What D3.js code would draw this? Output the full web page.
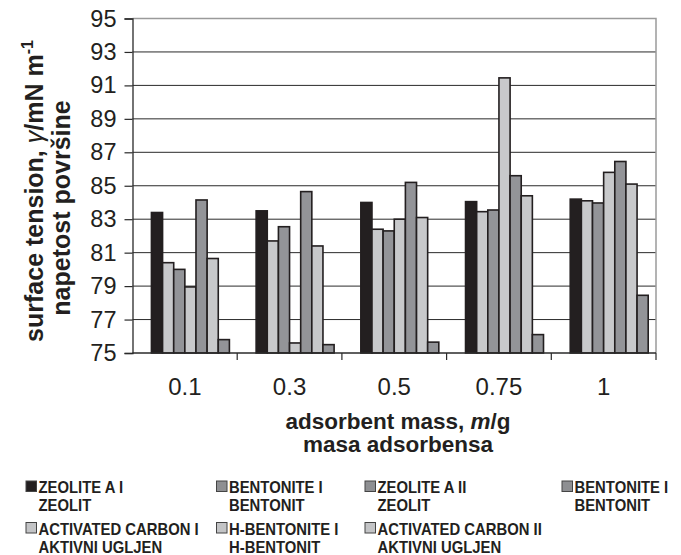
<!DOCTYPE html>
<html>
<head>
<meta charset="utf-8">
<script src="https://cdn.jsdelivr.net/npm/d3@7"></script>
<style>
  html, body { margin: 0; padding: 0; background: #fff; }
  svg { display: block; font-family: "Liberation Sans", Arial, sans-serif; }
</style>
</head>
<body>
<svg id="chart" width="681" height="555"></svg>
<script>
// ---------- data ----------
const categories = ["0.1", "0.3", "0.5", "0.75", "1"];
const yTicks = [75, 77, 79, 81, 83, 85, 87, 89, 91, 93, 95];

const seriesLine1 = ["ZEOLITE A  I", "BENTONITE I", "ZEOLITE A  II", "BENTONITE I",
                     "ACTIVATED CARBON I", "H-BENTONITE I", "ACTIVATED CARBON II"];
const seriesLine2 = ["ZEOLIT", "BENTONIT", "ZEOLIT", "BENTONIT",
                     "AKTIVNI UGLJEN", "H-BENTONIT", "AKTIVNI UGLJEN"];

const s1 = [83.40, 83.50, 84.00, 84.05, 84.20];
const s2 = [80.40, 81.70, 82.40, 83.45, 84.10];
const s3 = [80.00, 82.55, 82.30, 83.55, 83.97];
const s4 = [78.95, 75.60, 83.00, 91.45, 85.80];
const s5 = [84.15, 84.65, 85.20, 85.60, 86.45];
const s6 = [80.65, 81.40, 83.10, 84.40, 85.10];
const s7 = [75.80, 75.50, 75.65, 76.10, 78.45];
const seriesValues = [s1, s2, s3, s4, s5, s6, s7];

// ---------- styles ----------
const BLACK = "#231f20", LIGHT = "#c8c9cb", DARK = "#939498";
const barColors = [BLACK, LIGHT, DARK, LIGHT, DARK, LIGHT, DARK];
const legendColors = [BLACK, "#8e8f92", "#8e8f92", "#8e8f92", "#c3c4c6", "#c3c4c6", "#c3c4c6"];

const svg = d3.select("#chart");
const plotL = 132.5, plotR = 656, plotT = 18.5, plotB = 353;

const x0 = d3.scaleBand().domain(categories).range([plotL, plotR]).paddingInner(0).paddingOuter(0);
// 8 slots per category, first slot empty (as in the original Excel chart)
const x1 = d3.scaleBand().domain(d3.range(8)).range([0, x0.bandwidth()]).paddingInner(0).paddingOuter(0.7);
const y = d3.scaleLinear().domain([75, 95]).range([plotB, plotT]);

// gridlines
svg.append("g").selectAll("line").data(yTicks.filter(t => t > 75 && t < 95)).join("line")
  .attr("x1", plotL).attr("x2", plotR)
  .attr("y1", d => y(d)).attr("y2", d => y(d))
  .attr("stroke", "#2a2a2a").attr("stroke-width", 1);

// plot border (top and right, grey)
svg.append("path")
  .attr("d", `M${plotL},${y(95)}H${plotR}V${plotB}`)
  .attr("fill", "none").attr("stroke", "#9a9a9a").attr("stroke-width", 1.5);

// bars
const groups = svg.append("g").selectAll("g").data(categories).join("g")
  .attr("transform", d => `translate(${x0(d)},0)`);
groups.selectAll("rect")
  .data((c, ci) => seriesValues.map((vals, si) => ({ si, v: vals[ci] })))
  .join("rect")
  .attr("x", d => x1(d.si + 1))
  .attr("width", x1.bandwidth())
  .attr("y", d => y(d.v))
  .attr("height", d => y(75) - y(d.v))
  .attr("fill", d => barColors[d.si])
  .attr("stroke", BLACK).attr("stroke-width", 1.6);

// y axis
const yAxis = d3.axisLeft(y).tickValues(yTicks).tickSize(8).tickPadding(8).tickFormat(d3.format("d"));
const gy = svg.append("g").attr("transform", `translate(${plotL},0)`).call(yAxis);
gy.select(".domain").attr("stroke", "#2a2a2a").attr("stroke-width", 1.3);
gy.selectAll(".tick line").attr("stroke", "#2a2a2a").attr("stroke-width", 1.2);
gy.selectAll(".tick text").attr("font-size", 23.5).attr("fill", BLACK)
  .attr("font-family", "'Liberation Sans', Arial, sans-serif");

// x axis: category ticks at boundaries
const gx = svg.append("g").attr("transform", `translate(0,${plotB})`);
gx.append("line").attr("x1", plotL).attr("x2", plotR).attr("stroke", "#2a2a2a").attr("stroke-width", 1.3);
gx.selectAll("line.tk").data(categories).join("line").attr("class", "tk")
  .attr("x1", d => x0(d) + x0.bandwidth()).attr("x2", d => x0(d) + x0.bandwidth())
  .attr("y1", 0).attr("y2", 7).attr("stroke", "#2a2a2a").attr("stroke-width", 1.2);
gx.selectAll("text").data(categories).join("text")
  .attr("x", d => x0(d) + x0.bandwidth() / 2).attr("y", 42)
  .attr("text-anchor", "middle").attr("font-size", 24).attr("fill", BLACK)
  .text(d => d);

// x title
const xt = svg.append("text").attr("x", 398).attr("y", 429).attr("text-anchor", "middle")
  .attr("font-size", 22.5).attr("font-weight", "bold").attr("fill", BLACK);
xt.append("tspan").text("adsorbent mass, ");
xt.append("tspan").attr("font-style", "italic").text("m");
xt.append("tspan").text("/g");
svg.append("text").attr("x", 398).attr("y", 452).attr("text-anchor", "middle")
  .attr("font-size", 22.5).attr("font-weight", "bold").attr("fill", BLACK)
  .text("masa adsorbensa");

// y title
const yt1 = svg.append("text").attr("transform", "translate(43,191) rotate(-90)")
  .attr("text-anchor", "middle").attr("font-size", 25).attr("font-weight", "bold").attr("fill", BLACK);
yt1.append("tspan").text("surface tension, ");
yt1.append("tspan").attr("font-style", "italic").attr("font-weight", "normal").text("γ");
yt1.append("tspan").text("/mN m");
yt1.append("tspan").attr("font-size", 16).attr("dy", -10).text("-1");
svg.append("text").attr("transform", "translate(70,208) rotate(-90)")
  .attr("text-anchor", "middle").attr("font-size", 25).attr("font-weight", "bold").attr("fill", BLACK)
  .text("napetost površine");

// legend
const colX = [26, 216.5, 365, 562];
const rowY = [481, 522.5];
const lg = svg.append("g").selectAll("g").data(seriesLine1).join("g")
  .attr("transform", (d, i) => `translate(${colX[i % 4]},${rowY[Math.floor(i / 4)]})`);
lg.append("rect").attr("x", 0).attr("y", 0).attr("width", 10.5).attr("height", 10.5)
  .attr("fill", (d, i) => legendColors[i]).attr("stroke", "#444").attr("stroke-width", 1);
lg.append("text").attr("transform", "translate(12.5,12) scale(0.9,1)")
  .attr("font-size", 16.5).attr("font-weight", "bold").attr("fill", BLACK)
  .text(d => d);
lg.append("text").attr("transform", "translate(12.5,30) scale(0.9,1)")
  .attr("font-size", 16.5).attr("font-weight", "bold").attr("fill", BLACK)
  .text((d, i) => seriesLine2[i]);
</script>
</body>
</html>
